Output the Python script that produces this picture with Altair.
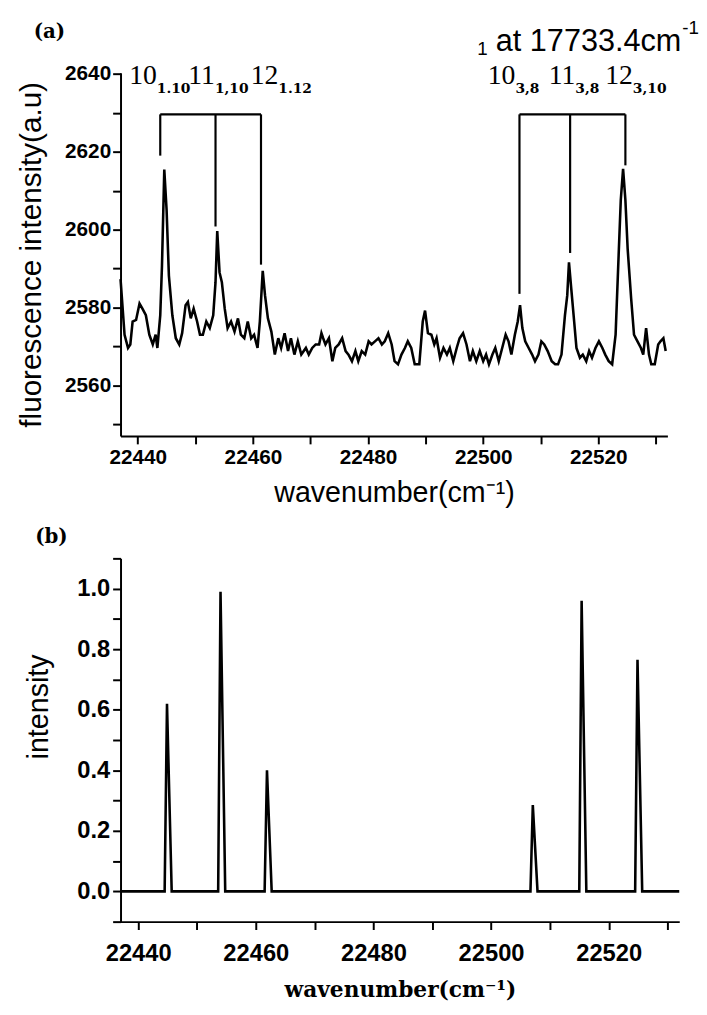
import altair as alt
import pandas as pd

# ---------------- data: panel (a) measured fluorescence trace ----------------
wn_a = [22437.0, 22437.7, 22438.3, 22438.7, 22439.1, 22439.7, 22440.3, 22440.8, 22441.4, 22442.0,
        22442.6, 22443.1, 22443.4, 22443.9, 22444.2, 22444.6, 22445.0, 22445.4, 22446.0, 22446.6,
        22447.2, 22447.7, 22448.3, 22448.7, 22449.2, 22449.7, 22450.3, 22450.8, 22451.3, 22451.9,
        22452.5, 22453.1, 22453.5, 22453.8, 22454.2, 22454.6, 22455.1, 22455.6, 22456.2, 22456.8,
        22457.4, 22457.9, 22458.5, 22459.1, 22459.7, 22460.2, 22460.8, 22461.2, 22461.7, 22462.1,
        22462.6, 22463.2, 22463.8, 22464.4, 22464.9, 22465.5, 22466.1, 22466.6, 22467.2, 22467.8,
        22468.4,
        22469.2, 22469.7, 22470.3, 22470.9, 22471.5, 22471.9, 22472.2, 22472.6, 22473.2, 22473.8,
        22474.3, 22474.9, 22475.5, 22476.1, 22476.6, 22477.2, 22477.8, 22478.3, 22478.9, 22479.5,
        22480.1, 22480.6, 22481.2, 22481.8, 22482.4, 22482.9, 22483.5, 22484.1, 22484.6, 22485.2,
        22485.8, 22486.4, 22486.9, 22487.5, 22488.1, 22488.9, 22489.5, 22489.9, 22490.4, 22491.0,
        22491.5, 22491.9, 22492.5, 22493.1, 22493.7, 22494.2, 22494.8, 22495.4, 22495.9, 22496.5,
        22497.1, 22497.7, 22498.2, 22498.8, 22499.4, 22500.0, 22500.5,
        22501.0, 22501.6, 22502.1, 22502.7, 22503.3, 22503.9, 22504.4, 22504.9, 22505.5, 22506.0,
        22506.4, 22506.8, 22507.3, 22507.9, 22508.5, 22509.0, 22509.6, 22510.1, 22510.6, 22511.2,
        22511.9, 22512.5, 22513.0, 22513.6, 22514.2, 22514.6, 22514.9, 22515.3, 22515.8, 22516.2,
        22516.8, 22517.3, 22517.9, 22518.4, 22518.9, 22519.5, 22520.1, 22520.7, 22521.2, 22521.8,
        22522.4, 22523.0, 22523.5, 22523.9, 22524.3, 22524.7, 22525.1, 22525.7, 22526.2, 22526.8,
        22527.4, 22527.8, 22528.3, 22528.8, 22529.2, 22529.8, 22530.4, 22530.8, 22531.3, 22531.7]

fl_a = [2587.3, 2573.0, 2569.6, 2570.5, 2576.4, 2576.8, 2581.0, 2579.7, 2578.0, 2573.0,
        2570.5, 2573.0, 2569.6, 2578.0, 2590.7, 2615.4, 2605.1, 2588.2, 2578.0, 2572.1,
        2570.5, 2573.4, 2580.6, 2581.4, 2577.2, 2579.7, 2576.4, 2573.0, 2573.0, 2576.4,
        2574.7, 2578.0, 2586.5, 2599.6, 2589.0, 2586.5, 2579.7, 2574.7, 2576.4, 2573.8,
        2577.2, 2573.0, 2572.1, 2576.4, 2572.1, 2573.0, 2569.6, 2576.4, 2589.4, 2583.1,
        2577.2, 2573.8, 2567.9, 2572.1, 2569.6, 2573.4, 2568.8, 2572.1, 2567.9, 2571.3,
        2567.9,
        2569.6, 2567.9, 2569.6, 2570.5, 2570.5, 2573.4, 2572.1, 2570.5, 2572.1, 2566.2,
        2569.6, 2570.5, 2572.1, 2568.8, 2567.9, 2566.2, 2568.8, 2566.2, 2568.8, 2567.9,
        2571.3, 2570.5, 2571.3, 2572.1, 2570.5, 2571.3, 2573.4, 2570.5, 2566.2, 2565.4,
        2567.9, 2569.6, 2571.3, 2569.6, 2565.4, 2565.4, 2576.4, 2579.2, 2573.4, 2573.0,
        2570.5, 2572.1, 2567.1, 2569.6, 2567.9, 2569.6, 2566.2, 2569.6, 2572.1, 2573.4,
        2570.5, 2566.2, 2568.8, 2566.2, 2568.8, 2566.2, 2567.9,
        2565.4, 2567.9, 2569.6, 2566.2, 2569.6, 2573.0, 2571.3, 2567.9, 2573.0, 2576.4,
        2580.6, 2574.7, 2571.3, 2569.6, 2567.9, 2566.2, 2567.9, 2571.3, 2570.5, 2568.8,
        2566.2, 2565.4, 2565.4, 2567.9, 2578.0, 2583.1, 2591.6, 2584.8, 2576.4, 2569.6,
        2567.1, 2567.9, 2566.2, 2568.8, 2567.1, 2569.6, 2571.3, 2569.6, 2567.9, 2566.2,
        2565.4, 2573.0, 2592.4, 2607.6, 2615.6, 2607.6, 2594.9, 2582.3, 2573.0, 2571.3,
        2569.6, 2567.9, 2574.7, 2567.9, 2565.4, 2565.4, 2570.5, 2571.3, 2572.1, 2568.8]

# assignment brackets in panel (a)
line_pos = [22443.9, 22453.5, 22461.4, 22506.3, 22515.1, 22524.7]
line_end = [2619.0, 2600.8, 2591.0, 2583.5, 2594.0, 2616.5]
bracket_level = 2629.6
bracket_start = [22443.9, 22506.3]
bracket_stop = [22461.4, 22524.7]
label_num = ["10", "11", "12", "10", "11", "12"]
label_sub = ["1.10", "1,10", "1.12", "3,8", "3,8", "3,10"]
label_at = [22443.3, 22453.4, 22464.4, 22505.6, 22516.0, 22526.0]
label_level = 2637.4
sub_level = 2635.2

# ---------------- data: panel (b) calculated stick spectrum ----------------
wn_b = [22437.0, 22444.5, 22444.9, 22445.7, 22453.6, 22454.0, 22454.8, 22461.5, 22461.9, 22462.7,
        22506.7, 22507.1, 22507.9, 22515.0, 22515.4, 22516.2, 22524.5, 22524.9, 22525.7, 22532.0]
int_b = [0, 0, 0.62, 0, 0, 0.99, 0, 0, 0.40, 0,
         0, 0.285, 0, 0, 0.96, 0, 0, 0.765, 0, 0]

x_ticks = [22440, 22450, 22460, 22470, 22480, 22490, 22500, 22510, 22520, 22530]
ya_ticks = [2550, 2560, 2570, 2580, 2590, 2600, 2610, 2620, 2630, 2640]
yb_ticks = [-0.1, 0.0, 0.1, 0.2, 0.3, 0.4, 0.5, 0.6, 0.7, 0.8, 0.9, 1.0, 1.1]

X_DOMAIN = [22437, 22532]
YA_DOMAIN = [2547, 2640.3]
YB_DOMAIN = [-0.1, 1.1]

SANS = "Liberation Sans"
SERIF = "DejaVu Serif"
SERIF_NUM = "Liberation Serif"

W_A, H_A = 554, 368
W_B, H_B = 566, 368

df_a = pd.DataFrame({"wn": wn_a, "fl": fl_a})
df_lines = pd.DataFrame({"pos": line_pos, "end": line_end, "lvl": [bracket_level] * len(line_pos)})
df_bar = pd.DataFrame({"s": bracket_start, "e": bracket_stop, "lvl": [bracket_level] * 2})
df_lab = pd.DataFrame({"at": label_at, "num": label_num, "sub": label_sub,
                       "ly": [label_level] * 6, "sy": [sub_level] * 6})
df_b = pd.DataFrame({"wn": wn_b, "inten": int_b})

xscale = alt.Scale(domain=X_DOMAIN, nice=False, zero=False)
yascale = alt.Scale(domain=YA_DOMAIN, nice=False, zero=False)
ybscale = alt.Scale(domain=YB_DOMAIN, nice=False, zero=False)

# ---------------- panel (a) ----------------
x_axis_a = alt.Axis(values=x_ticks, format="d",
                    labelExpr="datum.value % 20 == 0 ? datum.label : ''",
                    title="wavenumber(cm⁻¹)", titleFont=SANS, titleFontSize=29,
                    titleFontWeight="normal", titlePadding=11,
                    labelFont=SANS, labelFontSize=21, labelFontWeight="bold",
                    labelPadding=3, tickSize=8, labelFlush=False)
y_axis_a = alt.Axis(values=ya_ticks, format="d",
                    labelExpr="datum.value % 20 == 0 ? datum.label : ''",
                    title="fluorescence intensity(a.u)", titleFont=SANS, titleFontSize=30,
                    titleFontWeight="normal", titleX=-75,
                    labelFont=SANS, labelFontSize=21, labelFontWeight="bold",
                    labelPadding=2, tickSize=8, labelFlush=False)

trace = alt.Chart(df_a).mark_line(color="black", strokeWidth=2.6).encode(
    x=alt.X("wn:Q", scale=xscale, axis=x_axis_a),
    y=alt.Y("fl:Q", scale=yascale, axis=y_axis_a),
)

vlines = alt.Chart(df_lines).mark_rule(color="black", strokeWidth=2.2).encode(
    x=alt.X("pos:Q", scale=xscale),
    y=alt.Y("lvl:Q", scale=yascale),
    y2="end:Q",
)
hbars = alt.Chart(df_bar).mark_rule(color="black", strokeWidth=2.2).encode(
    x=alt.X("s:Q", scale=xscale),
    x2="e:Q",
    y=alt.Y("lvl:Q", scale=yascale),
)
nums = alt.Chart(df_lab).mark_text(font=SERIF_NUM, fontSize=28, align="right",
                                   baseline="alphabetic", color="black").encode(
    x=alt.X("at:Q", scale=xscale), y=alt.Y("ly:Q", scale=yascale), text="num:N")
subs = alt.Chart(df_lab).mark_text(font=SERIF, fontSize=14, fontWeight="bold", align="left",
                                   baseline="alphabetic", color="black").encode(
    x=alt.X("at:Q", scale=xscale), y=alt.Y("sy:Q", scale=yascale), text="sub:N")

panel_a_label = alt.Chart(pd.DataFrame({"t": ["(a)"]})).mark_text(
    font=SERIF, fontSize=20, fontWeight="bold", align="center", baseline="middle", color="black"
).encode(x=alt.value(-72), y=alt.value(-41), text="t:N")

title_sub = alt.Chart(pd.DataFrame({"t": ["1"]})).mark_text(
    font=SANS, fontSize=19, align="right", baseline="alphabetic", color="black"
).encode(x=alt.value(372), y=alt.value(-18), text="t:N")
title_main = alt.Chart(pd.DataFrame({"t": ["at 17733.4cm"]})).mark_text(
    font=SANS, fontSize=31, align="right", baseline="alphabetic", color="black"
).encode(x=alt.value(568), y=alt.value(-22), text="t:N")
title_sup = alt.Chart(pd.DataFrame({"t": ["-1"]})).mark_text(
    font=SANS, fontSize=19, align="left", baseline="alphabetic", color="black"
).encode(x=alt.value(569), y=alt.value(-39), text="t:N")

panel_a = alt.layer(trace, vlines, hbars, nums, subs, panel_a_label,
                    title_sub, title_main, title_sup).properties(width=W_A, height=H_A)

# ---------------- panel (b) ----------------
x_axis_b = alt.Axis(values=x_ticks, format="d",
                    labelExpr="datum.value % 20 == 0 ? datum.label : ''",
                    title="wavenumber(cm⁻¹)", titleFont=SERIF, titleFontSize=22,
                    titleFontWeight="bold", titlePadding=15,
                    labelFont=SANS, labelFontSize=24, labelFontWeight="bold",
                    labelPadding=12, tickSize=8, labelFlush=False)
y_axis_b = alt.Axis(values=yb_ticks,
                    labelExpr="abs(round(datum.value * 10)) % 2 == 0 ? format(datum.value, '.1f') : ''",
                    title="intensity", titleFont=SANS, titleFontSize=29,
                    titleFontWeight="normal", titleX=-68, titleY=150,
                    labelFont=SANS, labelFontSize=24, labelFontWeight="bold",
                    labelPadding=3, tickSize=8, labelFlush=False)

sticks = alt.Chart(df_b).mark_line(color="black", strokeWidth=2.6).encode(
    x=alt.X("wn:Q", scale=xscale, axis=x_axis_b),
    y=alt.Y("inten:Q", scale=ybscale, axis=y_axis_b),
)
panel_b_label = alt.Chart(pd.DataFrame({"t": ["(b)"]})).mark_text(
    font=SERIF, fontSize=20, fontWeight="bold", align="center", baseline="middle", color="black"
).encode(x=alt.value(-70), y=alt.value(-22), text="t:N")

panel_b = alt.layer(sticks, panel_b_label).properties(width=W_B, height=H_B)

chart = alt.vconcat(panel_a, panel_b, spacing=124, bounds="flush").configure_view(
    stroke=None
).configure_axis(
    domainColor="black", domainWidth=2, tickColor="black", tickWidth=2,
    grid=False, labelColor="black", titleColor="black"
).properties(padding={"left": 8, "top": 5, "right": 0, "bottom": 5})

chart.save("out.html", embed_options={"renderer": "svg", "actions": False})
